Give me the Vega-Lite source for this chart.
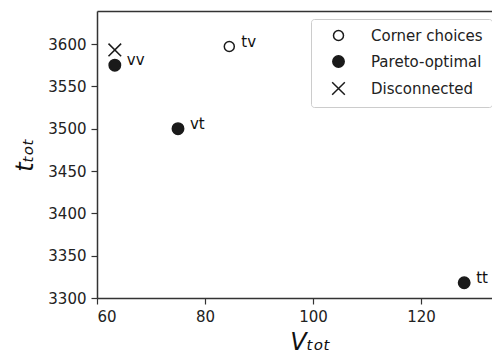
{
  "$schema": "https://vega.github.io/schema/vega-lite/v6.json",
  "autosize": {"type": "none"},
  "padding": {"left": 97, "top": 11, "right": 0, "bottom": 66},
  "width": 395,
  "height": 287,
  "background": "white",
  "config": {
    "font": "DejaVu Sans",
    "view": {"stroke": null},
    "axis": {"domainColor": "#333", "domainWidth": 1.5, "tickColor": "#333", "tickWidth": 1.2, "tickSize": 6, "labelColor": "#222", "labelFontSize": 15, "grid": false, "titleColor": "#111", "titleFontWeight": "normal", "titleFontStyle": "italic", "titleFontSize": 24},
    "legend": {"labelFontSize": 15, "labelColor": "#222", "strokeColor": "#ccc", "cornerRadius": 3, "padding": 9, "rowPadding": 8, "labelOffset": 25, "symbolOffset": 11}
  },
  "data": {
    "values": [
      {"V": 84.5, "t": 3597, "type": "Corner choices", "label": "tv"},
      {"V": 63.3, "t": 3575, "type": "Pareto-optimal", "label": "vv"},
      {"V": 75.0, "t": 3500, "type": "Pareto-optimal", "label": "vt"},
      {"V": 128.0, "t": 3318, "type": "Pareto-optimal", "label": "tt"},
      {"V": 63.3, "t": 3593, "type": "Disconnected", "label": ""}
    ]
  },
  "encoding": {
    "x": {"field": "V", "type": "quantitative", "scale": {"domain": [60, 133.15], "nice": false, "zero": false}, "axis": {"values": [60, 80, 100, 120], "format": "d", "title": "Vₜₒₜ", "titleX": 213, "titlePadding": 6, "labelPadding": 5}},
    "y": {"field": "t", "type": "quantitative", "scale": {"domain": [3300, 3639], "nice": false, "zero": false}, "axis": {"values": [3300, 3350, 3400, 3450, 3500, 3550, 3600], "format": "d", "title": "tₜₒₜ", "titlePadding": 10, "labelPadding": 5}}
  },
  "layer": [
    {
      "mark": {"type": "point", "strokeWidth": 1.5, "opacity": 1},
      "encoding": {
        "shape": {"field": "type", "type": "nominal", "scale": {"domain": ["Corner choices", "Pareto-optimal", "Disconnected"], "range": ["circle", "circle", "M-1,-1L1,1M-1,1L1,-1"]}, "legend": {"title": null, "orient": "none", "legendX": 214, "legendY": 8}},
        "fill": {"field": "type", "type": "nominal", "scale": {"domain": ["Corner choices", "Pareto-optimal", "Disconnected"], "range": ["white", "#1a1a1a", "transparent"]}, "legend": {"title": null, "orient": "none", "legendX": 214, "legendY": 8}},
        "stroke": {"field": "type", "type": "nominal", "scale": {"domain": ["Corner choices", "Pareto-optimal", "Disconnected"], "range": ["#1a1a1a", "#1a1a1a", "#1a1a1a"]}, "legend": {"title": null, "orient": "none", "legendX": 214, "legendY": 8}},
        "size": {"field": "type", "type": "nominal", "scale": {"domain": ["Corner choices", "Pareto-optimal", "Disconnected"], "range": [100, 160, 100]}, "legend": {"title": null, "orient": "none", "legendX": 214, "legendY": 8}}
      }
    },
    {
      "mark": {"type": "text", "align": "left", "baseline": "alphabetic", "dx": 12, "dy": 0, "fontSize": 15, "color": "#111"},
      "encoding": {
        "x": {"field": "V", "type": "quantitative", "axis": {"orient": "top", "labels": false, "ticks": false, "title": null, "domainColor": "#333", "domainWidth": 1.5}},
        "text": {"field": "label"}
      }
    }
  ],
  "resolve": {"axis": {"x": "independent"}}
}
